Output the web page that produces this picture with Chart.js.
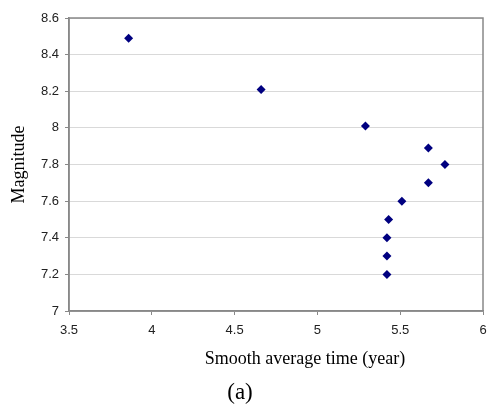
<!DOCTYPE html>
<html>
<head>
<meta charset="utf-8">
<script src="https://cdn.jsdelivr.net/npm/chart.js@4"></script>
<style>
  html, body { margin: 0; padding: 0; background: #fff; }
  #wrap { width: 488px; height: 408px; position: relative; }
</style>
</head>
<body>
<div id="wrap"><canvas id="magChart"></canvas></div>
<script>
// values
const smoothTime = [3.86, 4.66, 5.29, 5.67, 5.77, 5.67, 5.51, 5.43, 5.42, 5.42, 5.42];
const magnitude  = [8.49, 8.21, 8.01, 7.89, 7.80, 7.70, 7.60, 7.50, 7.40, 7.30, 7.20];

const xTitle = 'Smooth average time (year)';
const yTitle = 'Magnitude';
const caption = '(a)';

// gray frame round the plot area, plus the axis titles and caption
const framePlugin = {
    id: 'frame',
    afterDraw(chart) {
        const { ctx, chartArea: a } = chart;
        ctx.save();
        ctx.strokeStyle = '#888';
        ctx.lineWidth = 1.5;
        ctx.strokeRect(a.left, a.top, a.right - a.left, a.bottom - a.top);

        ctx.fillStyle = '#000';
        ctx.textAlign = 'center';
        ctx.textBaseline = 'middle';
        ctx.font = '18px "Liberation Serif", serif';
        ctx.fillText(xTitle, 305, 359);

        ctx.font = '23px "Liberation Serif", serif';
        ctx.fillText(caption, 240, 393);

        ctx.translate(19, (a.top + a.bottom) / 2);
        ctx.rotate(-Math.PI / 2);
        ctx.font = '18px "Liberation Serif", serif';
        ctx.fillText(yTitle, 0, 0);
        ctx.restore();
    }
};

const points = smoothTime.map((x, i) => ({ x: x, y: magnitude[i] }));
const tickFont = { family: '"Liberation Sans", Arial, sans-serif', size: 13 };
// Excel style labels: 8 not 8.0
const plainLabel = v => String(Math.round(v * 10) / 10);

new Chart(document.getElementById('magChart').getContext('2d'), {
    type: 'scatter',
    data: {
        datasets: [{
            data: points,
            pointStyle: 'rectRot',
            pointRadius: 4.5,
            backgroundColor: '#000080',
            borderColor: '#000080',
            borderWidth: 0
        }]
    },
    options: {
        responsive: true,
        maintainAspectRatio: false,
        animation: false,
        layout: { padding: { left: 0, right: 5, top: 18, bottom: 0 } },
        plugins: {
            legend: { display: false },
            tooltip: { enabled: false }
        },
        scales: {
            x: {
                min: 3.5,
                max: 6,
                ticks: { stepSize: 0.5, color: '#222', font: tickFont, padding: 8, maxRotation: 0, callback: plainLabel },
                grid: { drawOnChartArea: false, drawTicks: true, tickLength: 4, color: '#888' },
                border: { color: '#888', width: 1.5 },
                afterFit: s => { s.height = 97; s.paddingRight = 0; s.paddingLeft = 0; }
            },
            y: {
                min: 7,
                max: 8.6,
                ticks: { stepSize: 0.2, color: '#222', font: tickFont, padding: 6, callback: plainLabel },
                grid: { color: '#d9d9d9', tickColor: '#888', tickLength: 4, lineWidth: 1 },
                border: { color: '#888', width: 1.5 },
                afterFit: s => { s.width = 69; s.paddingTop = 0; s.paddingBottom = 0; }
            }
        }
    },
    plugins: [framePlugin]
});
</script>
</body>
</html>
